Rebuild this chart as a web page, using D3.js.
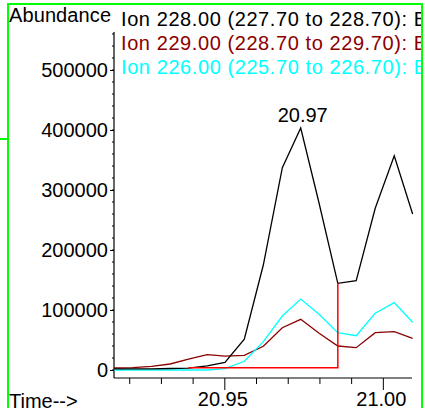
<!DOCTYPE html>
<html><head><meta charset="utf-8">
<script src="https://cdn.jsdelivr.net/npm/d3@7"></script>
<style>html,body{margin:0;padding:0;background:#fff;}svg{display:block;font-family:"Liberation Sans",Arial,sans-serif;}</style>
</head><body>
<svg id="c" width="425" height="408"></svg>
<script>
const times = [20.9152,20.9211,20.9270,20.9329,20.9387,20.9446,20.9502,20.9563,20.9623,20.9683,20.9741,20.9798,20.9858,20.9916,20.9976,21.0036,21.0094];
const ion228 = [2000,2000,2000,2500,3000,6700,12800,51200,175000,337200,403300,280000,144500,148800,269500,357200,260000];
const ion229 = [3300,4000,6000,10000,18300,25500,23000,24500,39500,70500,84500,61700,40000,37200,62200,63800,52800];
const ion226 = [0,0,0,0,0,0,2200,14500,47200,90000,118300,93300,62200,57200,94500,112200,79500];
const legendLabels = ["Ion 228.00 (227.70 to 228.70): B","Ion 229.00 (228.70 to 229.70): B","Ion 226.00 (225.70 to 226.70): B"];
const seriesColors = ["#000000","#8b0000","#00ffff"];
const yTicks = [0,100000,200000,300000,400000,500000];
const xMinorTicks = [20.92,20.93,20.94,20.96,20.97,20.98,20.99];
const xMajorTicks = [20.95,21.00];
const peakLabel = "20.97";
const peakTime = 20.9741;
const peakValue = 403300;
// integration baseline
const integStart = 20.9387, integEnd = 20.9858, integBase = 3800, integTop = 144500;

const svg = d3.select("#c");
const x = d3.scaleLinear().domain([20.9152, 21.0092]).range([114, 412]);
const y = d3.scaleLinear().domain([0, 500000]).range([370, 70]);
const FS = 20;

// green frame
svg.append("rect").attr("x",8).attr("y",4).attr("width",414).attr("height",420)
  .attr("fill","none").attr("stroke","#00ff00").attr("stroke-width",2);
svg.append("line").attr("x1",0).attr("x2",8).attr("y1",139).attr("y2",139)
  .attr("stroke","#00ff00").attr("stroke-width",2);

const defs = svg.append("defs");
defs.append("clipPath").attr("id","clipText").append("rect").attr("x",0).attr("y",0).attr("width",421).attr("height",408);

// y axis
const yAxisG = svg.append("g").attr("transform","translate(114,0)");
yAxisG.append("line").attr("x1",0).attr("x2",0).attr("y1",32).attr("y2",378).attr("stroke","#000").attr("stroke-width",1.2);
const yMinor = d3.range(0, 560001, 20000);
yAxisG.selectAll("line.minor").data(yMinor.filter(v=>y(v)>=32)).join("line")
  .attr("class","minor").attr("x1",-2).attr("x2",0).attr("y1",d=>y(d)).attr("y2",d=>y(d)).attr("stroke","#000");
const yAx = d3.axisLeft(y).tickValues(yTicks).tickSize(4).tickPadding(2).tickFormat(d3.format("d"));
yAxisG.append("g").call(yAx).call(g=>g.select(".domain").remove())
  .call(g=>g.selectAll("text").attr("font-size",FS).attr("font-family","Liberation Sans, Arial").attr("fill","#000"))
  .call(g=>g.selectAll("line").attr("stroke","#000"));

// x axis
const xAxisG = svg.append("g").attr("transform","translate(0,378)");
xAxisG.append("line").attr("x1",114).attr("x2",412).attr("y1",0).attr("y2",0).attr("stroke","#000").attr("stroke-width",1.2);
xAxisG.append("g").call(d3.axisBottom(x).tickValues(xMinorTicks).tickSize(6).tickFormat(""))
  .call(g=>g.select(".domain").remove()).call(g=>g.selectAll("line").attr("stroke","#000"));
xAxisG.append("g").call(d3.axisBottom(x).tickValues(xMajorTicks).tickSize(12).tickPadding(2).tickFormat(d3.format(".2f")))
  .call(g=>g.select(".domain").remove())
  .call(g=>g.selectAll("line").attr("stroke","#000"))
  .call(g=>g.selectAll("text").attr("font-size",FS).attr("font-family","Liberation Sans, Arial").attr("fill","#000").attr("dx",-2));

// titles
svg.append("text").attr("x",9).attr("y",22).attr("font-size",FS).attr("textLength",102).attr("lengthAdjust","spacing").text("Abundance");
svg.append("text").attr("x",9).attr("y",408).attr("font-size",FS).text("Time-->");

// data lines
const line = d3.line().x((d,i)=>x(times[i])).y(d=>y(d));
[[ion229,seriesColors[1]],[ion226,seriesColors[2]],[ion228,seriesColors[0]]].forEach(([s,col])=>{
  svg.append("path").attr("d",line(s)).attr("fill","none").attr("stroke",col).attr("stroke-width",1.3);
});

// integration
svg.append("path").attr("d", d3.line()([[x(integStart),y(integBase)],[x(integEnd),y(integBase)],[x(integEnd),y(integTop)]]))
  .attr("fill","none").attr("stroke","#ff0000").attr("stroke-width",1.5);

// peak label
svg.append("text").attr("x",x(peakTime)+2).attr("y",y(peakValue)-6).attr("text-anchor","middle").attr("font-size",FS).text(peakLabel);

// legend
const leg = svg.append("g").attr("clip-path","url(#clipText)");
legendLabels.forEach((l,i)=>{
  leg.append("text").attr("x",121).attr("y",26+i*24).attr("font-size",FS).attr("fill",seriesColors[i])
    .attr("textLength",306).attr("lengthAdjust","spacing").text(l);
});
</script>
</body></html>
